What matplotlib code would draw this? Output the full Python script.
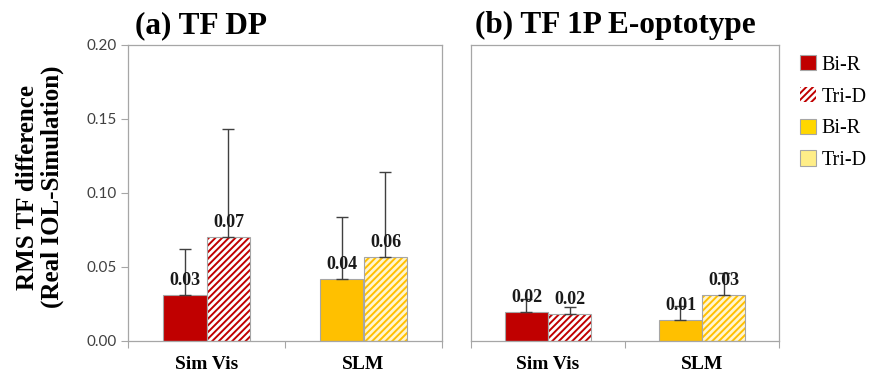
import matplotlib
matplotlib.use("Agg")
import matplotlib.pyplot as plt
import numpy as np
from matplotlib.patches import Patch

categories = ["Sim Vis", "SLM"]
series_labels = ["Bi-R", "Tri-D"]

# panel (a) TF DP
dp_bir = [0.031, 0.042]
dp_trid = [0.070, 0.057]
dp_bir_err = [0.031, 0.042]
dp_trid_err = [0.073, 0.057]

# panel (b) TF 1P E-optotype
e_bir = [0.0195, 0.0145]
e_trid = [0.018, 0.031]
e_bir_err = [0.009, 0.009]
e_trid_err = [0.005, 0.015]

bir_labels_dp = ["0.03", "0.04"]
trid_labels_dp = ["0.07", "0.06"]
bir_labels_e = ["0.02", "0.01"]
trid_labels_e = ["0.02", "0.03"]

yticks = [0.00, 0.05, 0.10, 0.15, 0.20]

RED = "#C00000"
YEL = "#FFC000"
YEL_LIGHT = "#FFF5D0"
EDGE = "#A6A6A6"
ERRC = "#404040"
SERIF = "Liberation Serif"

plt.rcParams["hatch.linewidth"] = 1.4

fig = plt.figure(figsize=(8.75, 3.78), dpi=100)
axL = fig.add_axes([128/875, 1-341/378, (442-128)/875, (341-45)/378])
axR = fig.add_axes([471/875, 1-341/378, (779-471)/875, (341-45)/378])

w = 0.28
x = np.arange(len(categories))
solid_cols = [RED, YEL]
hatch_bg = ["white", YEL_LIGHT]
hatch_fg = [RED, YEL]


def draw(ax, bir, trid, bir_err, trid_err, bl, tl, show_y):
    for i in range(len(categories)):
        xb = x[i] - w/2
        xt = x[i] + w/2
        ax.bar(xb, bir[i], w, color=solid_cols[i], edgecolor=EDGE, linewidth=0.8, zorder=2)
        ax.bar(xt, trid[i], w, color=hatch_bg[i], edgecolor=hatch_fg[i], hatch="/////", linewidth=0, zorder=2)
        ax.bar(xt, trid[i], w, fill=False, edgecolor=EDGE, linewidth=0.8, zorder=3)
        ax.errorbar([xb], [bir[i]], yerr=[[0], [bir_err[i]]], fmt="none", ecolor=ERRC,
                    elinewidth=1.0, capsize=4, capthick=1.0, zorder=4)
        ax.errorbar([xt], [trid[i]], yerr=[[0], [trid_err[i]]], fmt="none", ecolor=ERRC,
                    elinewidth=1.0, capsize=4, capthick=1.0, zorder=4)
        ax.text(xb, bir[i] + 0.004, bl[i], ha="center", va="bottom", fontsize=13,
                fontweight="bold", family=SERIF, color="#1a1a1a", zorder=5)
        ax.text(xt, trid[i] + 0.004, tl[i], ha="center", va="bottom", fontsize=13,
                fontweight="bold", family=SERIF, color="#1a1a1a", zorder=5)
    ax.set_xlim(-0.5, 1.5)
    ax.set_ylim(0, 0.20)
    for s in ax.spines.values():
        s.set_color(EDGE)
        s.set_linewidth(0.9)
    ax.set_xticks([-0.5, 0.5, 1.5])
    ax.set_xticklabels([])
    ax.set_xticks(x, minor=True)
    ax.set_xticklabels(categories, minor=True, fontsize=14, fontweight="bold", family=SERIF)
    ax.tick_params(axis="x", which="minor", length=0, pad=11)
    ax.tick_params(axis="x", which="major", length=5, color=EDGE, direction="out")
    if show_y:
        ax.set_yticks(yticks)
        ax.set_yticklabels([f"{v:.2f}" for v in yticks], fontsize=11, family="Lato", color="#404040")
        ax.tick_params(axis="y", length=5, color=EDGE, direction="out", pad=3)
    else:
        ax.set_yticks([])


draw(axL, dp_bir, dp_trid, dp_bir_err, dp_trid_err, bir_labels_dp, trid_labels_dp, True)
draw(axR, e_bir, e_trid, e_bir_err, e_trid_err, bir_labels_e, trid_labels_e, False)

axL.set_ylabel("RMS TF difference\n(Real IOL-Simulation)", fontsize=18, fontweight="bold",
               family=SERIF, linespacing=1.05)
axL.yaxis.set_label_coords(-0.205, 0.52)

fig.text(135/875, 1-33/378, "(a) TF DP", fontsize=22.5, fontweight="bold", family=SERIF,
         ha="left", va="baseline")
fig.text(475/875, 1-33/378, "(b) TF 1P E-optotype", fontsize=22.5, fontweight="bold", family=SERIF,
         ha="left", va="baseline")

handles = [
    Patch(facecolor=RED, edgecolor=EDGE, linewidth=0.8),
    Patch(facecolor="white", edgecolor=RED, hatch="/////", linewidth=0),
    Patch(facecolor="#FFD700", edgecolor=EDGE, linewidth=0.8),
    Patch(facecolor="#FFEE88", edgecolor=EDGE, linewidth=0.8),
]
labels = series_labels + series_labels
fig.legend(handles, labels, loc="upper left", bbox_to_anchor=(792/875, 1-47/378),
           frameon=False, prop={"family": SERIF, "size": 14.5}, handlelength=0.8,
           handleheight=0.8, handletextpad=0.25, labelspacing=0.6, borderaxespad=0)

fig.savefig("out.png", dpi=100)
